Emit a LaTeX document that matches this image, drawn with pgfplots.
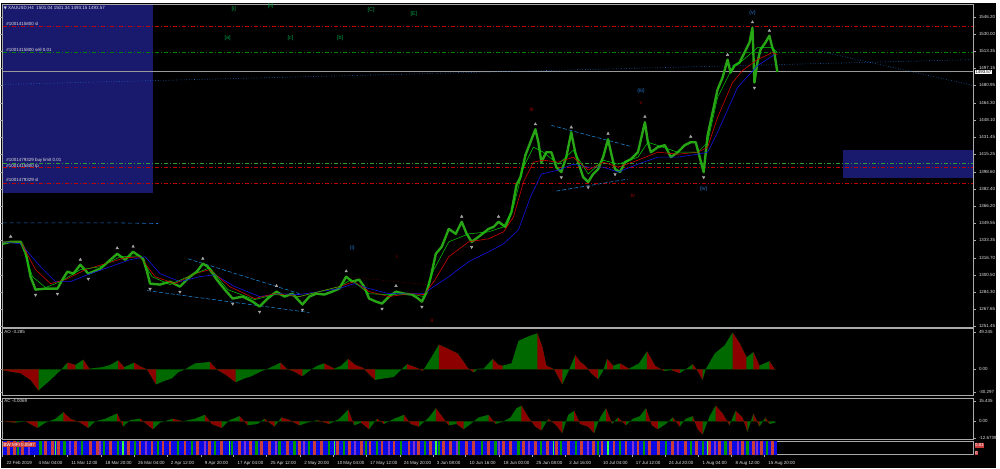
\documentclass[border=0pt]{standalone}
\usepackage{pgfplots}
\pgfplotsset{compat=1.18}
\usepackage{fontspec}
\setmainfont{Liberation Sans}
\newfontfamily\symfont{DejaVu Sans}
\definecolor{navy}{RGB}{25,25,110}
\definecolor{pricegreen}{RGB}{40,165,20}
\definecolor{aogreen}{RGB}{0,105,0}
\definecolor{aored}{RGB}{140,0,0}
\definecolor{mablue}{RGB}{20,20,230}
\definecolor{mared}{RGB}{210,0,0}
\definecolor{magreen}{RGB}{0,210,0}
\definecolor{ordred}{RGB}{190,0,0}
\definecolor{ordgreen}{RGB}{0,130,0}
\definecolor{trendblue}{RGB}{30,110,200}
\definecolor{chanblue}{RGB}{30,144,230}
\definecolor{wavegreen}{RGB}{0,160,70}
\definecolor{waveblue}{RGB}{40,120,210}
\definecolor{wavered}{RGB}{170,0,0}
\definecolor{frame}{RGB}{170,170,170}
\definecolor{txt}{RGB}{225,225,225}
\definecolor{mfired}{RGB}{200,60,60}
\definecolor{mfiblue}{RGB}{10,10,230}
\definecolor{mfigreen}{RGB}{0,150,0}
\definecolor{mfilime}{RGB}{60,255,60}
\definecolor{mfipurple}{RGB}{130,50,200}
\newcommand{\tf}{\fontsize{4.5}{5}\selectfont}
\pgfplotsset{
  mtpanel/.style={
    scale only axis, width=975pt, xmin=2, xmax=977, clip=false,
    axis line style={draw=frame, line width=0.9pt},
    tick style={draw=frame, line width=0.4pt},
    tick align=outside, major tick length=2.5pt,
    yticklabel pos=right, xtick=\empty,
    ticklabel style={font=\tf, text=txt},
    yticklabel style={xshift=-0.5pt},
  }
}
\begin{document}
\begin{tikzpicture}
\fill[black] (0,0) rectangle (1000pt,467pt);
% ---------------- main price panel ----------------
\begin{axis}[mtpanel, at={(2pt,141pt)}, anchor=south west, height=324pt,
  ymin=1250.50, ymax=1557.57,
  ytick={1251.45,1267.65,1284.30,1300.50,1316.70,1333.35,1349.55,1366.20,1382.40,1398.60,1415.25,1431.45,1448.10,1464.30,1480.95,1497.15,1513.35,1530.00,1546.20},
  yticklabel style={/pgf/number format/.cd, fixed, fixed zerofill, precision=2, 1000 sep={}, assume math mode=true},
]
% rectangles
\addplot[fill=navy, draw=none] coordinates {(2,1378.45)(153,1378.45)(153,1557.57)(2,1557.57)} -- cycle;
\addplot[fill=navy, draw=none] coordinates {(846,1392.7)(977,1392.7)(977,1419.2)(846,1419.2)} -- cycle;
% order lines
\addplot[ordred, line width=0.6pt, dash pattern=on 4pt off 2pt on 1pt off 2pt] coordinates {(2,1536.7)(977,1536.7)};
\addplot[ordgreen, line width=0.6pt, dash pattern=on 4pt off 2pt on 1pt off 2pt] coordinates {(2,1512.1)(977,1512.1)};
\addplot[ordgreen!80!white, line width=0.5pt, dash pattern=on 4pt off 2pt on 1pt off 2pt] coordinates {(2,1406.9)(977,1406.9)};
\addplot[ordred, line width=0.5pt, dash pattern=on 4pt off 2pt on 1pt off 2pt] coordinates {(2,1403.1)(977,1403.1)};
\addplot[ordred, line width=0.5pt, dash pattern=on 4pt off 2pt on 1pt off 2pt] coordinates {(2,1387.9)(977,1387.9)};
\addplot[gray!80, line width=0.5pt] coordinates {(2,1494.1)(977,1494.1)};
% trend lines
\addplot[trendblue, line width=0.6pt, dotted] coordinates {(2,1481.8)(977,1505.45)};
\addplot[trendblue, line width=0.6pt, dotted] coordinates {(820,1514.0)(977,1480.8)};
\addplot[trendblue, line width=0.6pt, dash pattern=on 4pt off 3pt] coordinates {(2,1350.0)(120,1350.0)(158,1349.4)};
\addplot[chanblue, line width=0.5pt, dash pattern=on 4pt off 2pt] coordinates {(188,1315.9)(300,1282.7)};
\addplot[chanblue, line width=0.5pt, dash pattern=on 4pt off 2pt] coordinates {(147,1285.6)(310,1264.7)};
\addplot[chanblue, line width=0.5pt, dash pattern=on 4pt off 2pt] coordinates {(553,1442.9)(632,1423.0)};
\addplot[chanblue, line width=0.5pt, dash pattern=on 4pt off 2pt] coordinates {(558,1380.3)(630,1391.7)};
\addplot[wavered, line width=0.5pt, dotted] coordinates {(347,1298.8)(427,1291.3)};
% price
\addplot[pricegreen, line width=2.4pt, line join=round] coordinates {(2,1330.1)(10,1332.0)(20,1332.0)(25,1322.5)(30,1298.8)(35,1286.5)(45,1287.5)(57,1287.5)(62,1296.0)(67,1303.6)(73,1301.7)(80,1310.2)(88,1301.7)(100,1306.4)(108,1313.1)(117,1320.6)(125,1314.9)(133,1322.5)(143,1315.9)(147,1303.6)(150,1292.2)(160,1291.3)(170,1294.1)(180,1289.4)(190,1298.8)(197,1303.6)(203,1311.2)(208,1308.3)(213,1301.7)(217,1296.0)(225,1286.5)(233,1278.0)(243,1279.9)(253,1275.1)(260,1270.4)(268,1278.0)(277,1284.6)(285,1279.9)(293,1282.7)(303,1272.3)(310,1279.9)(317,1282.7)(325,1281.8)(333,1284.6)(340,1287.5)(347,1298.8)(353,1294.1)(360,1296.0)(365,1289.4)(370,1278.0)(377,1275.1)(383,1273.2)(390,1279.9)(397,1284.6)(405,1282.7)(413,1281.8)(418,1278.9)(423,1275.1)(428,1284.6)(432,1298.8)(437,1320.6)(443,1327.3)(450,1344.3)(457,1339.6)(463,1351.0)(468,1339.6)(473,1332.0)(480,1336.8)(490,1344.3)(495,1346.2)(500,1351.0)(507,1346.2)(513,1360.4)(518,1386.0)(522,1393.6)(527,1414.5)(532,1426.8)(537,1439.1)(540,1426.8)(543,1407.8)(548,1417.3)(553,1417.3)(558,1403.1)(563,1398.4)(568,1412.6)(573,1436.3)(577,1417.3)(580,1407.8)(585,1393.6)(590,1388.9)(595,1396.5)(600,1401.2)(605,1412.6)(610,1429.6)(614,1412.6)(617,1401.2)(622,1398.4)(627,1407.8)(633,1410.7)(640,1417.3)(647,1445.8)(650,1426.8)(653,1417.3)(660,1422.1)(667,1424.0)(673,1412.6)(680,1417.3)(687,1424.0)(693,1426.8)(698,1426.8)(702,1412.6)(706,1398.4)(710,1433.4)(715,1455.2)(720,1477.0)(725,1488.4)(730,1505.4)(733,1493.1)(737,1499.8)(742,1502.6)(747,1512.1)(752,1521.6)(755,1535.8)(757,1483.6)(760,1502.6)(763,1514.9)(768,1521.6)(772,1528.2)(775,1516.8)(777,1512.1)(780,1493.6)};
% moving averages
\addplot[mablue, line width=0.6pt] coordinates {(2,1332.0)(20,1330.1)(40,1308.3)(55,1294.1)(70,1294.1)(90,1301.7)(110,1308.3)(130,1315.0)(145,1317.8)(160,1301.7)(180,1294.1)(200,1298.8)(215,1300.7)(235,1289.4)(260,1279.9)(280,1282.6)(300,1281.8)(320,1284.6)(340,1287.5)(355,1292.2)(370,1287.5)(390,1282.6)(410,1282.6)(425,1282.6)(435,1289.4)(450,1298.8)(470,1313.1)(490,1322.5)(505,1330.1)(520,1343.4)(532,1374.7)(543,1396.5)(560,1400.3)(575,1405.9)(590,1403.1)(605,1403.1)(620,1398.4)(640,1405.9)(660,1412.6)(680,1412.6)(700,1415.4)(710,1417.3)(720,1436.3)(740,1478.9)(760,1499.6)(777,1510.2)};
\addplot[mared, line width=0.6pt] coordinates {(2,1332.0)(20,1332.0)(35,1305.5)(50,1292.2)(65,1296.0)(85,1305.5)(105,1311.2)(125,1316.8)(140,1317.8)(155,1298.8)(175,1292.2)(195,1301.7)(210,1305.5)(230,1289.4)(255,1278.0)(275,1282.6)(300,1279.9)(320,1284.6)(340,1289.4)(355,1294.1)(370,1284.6)(390,1279.9)(410,1282.6)(425,1281.8)(435,1294.1)(450,1317.8)(470,1332.0)(490,1334.9)(505,1341.5)(515,1355.7)(525,1388.9)(535,1407.8)(545,1409.7)(560,1407.8)(575,1412.6)(590,1400.3)(605,1407.8)(620,1403.1)(640,1409.7)(660,1417.3)(680,1415.4)(700,1417.3)(710,1422.1)(720,1450.5)(735,1483.7)(745,1495.0)(760,1505.5)(775,1512.1)(780,1510.2)};
\addplot[magreen, line width=0.5pt] coordinates {(2,1332.0)(20,1332.0)(32,1298.8)(45,1288.4)(60,1294.1)(80,1305.5)(100,1308.3)(120,1317.8)(140,1318.7)(152,1298.8)(170,1291.3)(195,1301.7)(210,1307.4)(228,1286.5)(255,1277.0)(275,1281.8)(300,1279.9)(320,1284.6)(340,1289.4)(352,1296.0)(370,1282.6)(390,1281.8)(410,1282.6)(425,1279.9)(435,1305.5)(450,1332.0)(470,1339.6)(490,1341.5)(505,1346.2)(515,1365.2)(525,1403.1)(535,1422.1)(545,1417.3)(560,1405.9)(575,1419.2)(590,1396.5)(605,1409.7)(620,1405.9)(640,1412.6)(650,1426.8)(665,1422.1)(680,1417.3)(700,1417.3)(710,1426.8)(720,1469.4)(735,1497.9)(745,1504.5)(760,1516.8)(775,1516.8)(780,1512.1)};
% fractals
\addplot[only marks, mark=triangle*, mark size=1.5pt, color=gray!70] coordinates {(10,1337)(80,1315)(117,1326)(133,1327.5)(203,1316)(277,1290)(347,1304)(397,1290)(463,1356)(500,1356)(537,1444)(573,1441)(610,1435)(647,1451)(693,1432)(730,1510)(755,1541)(772,1533)};
\addplot[only marks, mark=triangle*, mark size=1.5pt, color=gray!70, mark options={rotate=180}] coordinates {(35,1281.5)(57,1282.5)(88,1296.7)(150,1287.2)(180,1284.4)(233,1273)(260,1265.4)(303,1267.3)(383,1268.2)(423,1270.1)(473,1327)(563,1393.4)(590,1383.9)(617,1396.2)(706,1393.4)(757,1478.6)};
% texts
\node[anchor=north west, text=txt, font=\tf, inner sep=1pt] at (rel axis cs:0,1) {{\symfont\fontsize{4}{5}\selectfont ▼}\ XAUUSD,H4\ \ 1501.04 1501.34 1493.15 1493.57};
\node[anchor=south west, text=txt, font=\tf, inner sep=0.5pt] at (axis cs:5,1537.5) {\#1001415800 sl};
\node[anchor=south west, text=txt, font=\tf, inner sep=0.5pt] at (axis cs:5,1512.9) {\#1001415800 sell 0.01};
\node[anchor=south west, text=txt, font=\tf, inner sep=0.5pt] at (axis cs:5,1407.3) {\#1001479329 buy limit 0.01};
\node[anchor=north west, text=txt, font=\tf, inner sep=0.5pt] at (axis cs:5,1406.8) {\#1001415800 tp};
\node[anchor=south west, text=txt, font=\tf, inner sep=0.5pt] at (axis cs:5,1388.7) {\#1001479329 sl};
\node[fill=white, text=black, font=\tf, inner sep=0.6pt, anchor=west] at (axis cs:978,1493.57) {1493.57};
% wave labels
\begin{scope}[font=\fontsize{5.5}{6}\selectfont]
\node[text=wavegreen] at (axis cs:234,1553.8) {[i]};
\node[text=wavegreen] at (axis cs:271,1556.6) {[ii]};
\node[text=wavegreen] at (axis cs:372,1552.8) {[C]};
\node[text=wavegreen] at (axis cs:415,1549.1) {[E]};
\node[text=wavegreen] at (axis cs:228,1526.3) {[a]};
\node[text=wavegreen] at (axis cs:291,1526.3) {[c]};
\node[text=wavegreen] at (axis cs:341,1526.3) {[b]};
\node[text=waveblue] at (axis cs:755,1550.0) {(v)};
\node[text=waveblue] at (axis cs:643,1475.1) {(iii)};
\node[text=waveblue] at (axis cs:706,1382.2) {(iv)};
\node[text=waveblue] at (axis cs:353,1326.3) {(i)};
\node[text=wavered] at (axis cs:533,1458.1) {iii};
\node[text=wavered] at (axis cs:643,1463.8) {v};
\node[text=wavered] at (axis cs:635,1376.5) {iv};
\node[text=wavered] at (axis cs:398,1317.8) {i};
\node[text=wavered] at (axis cs:433,1257.1) {ii};
\end{scope}
\end{axis}
% ---------------- AO panel ----------------
\begin{axis}[mtpanel, at={(2pt,73pt)}, anchor=south west, height=67pt,
  ymin=-34.27, ymax=54.55, ytick={-30.297,0,49.245}, yticklabels={-30.297,0.00,49.245},
  unbounded coords=jump]
\addplot[fill=aogreen, draw=none] coordinates {(2,0)(2,-1)(10,-3)(20,-5)(30,-14)(38,-28)(50,-14)(61,0)(67,9)(75,6)(83,13)(89,1)(95,2)(102,3)(110,6)(118,12)(124,3)(134,9)(140,4)(147,0)(156,-20)(165,-15)(172,-12)(178,-4)(185,0)(195,8)(203,9)(210,10)(217,0)(227,-8)(236,-17)(245,-12)(252,-9)(261,-3)(270,2)(281,9)(287,1)(295,-3)(303,-9)(312,0)(318,5)(325,8)(335,1)(342,5)(349,14)(356,6)(364,2)(370,-6)(376,-14)(385,-12)(395,-10)(401,-2)(408,7)(418,2)(424,-2)(432,15)(440,33)(450,27)(459,21)(465,10)(469,2)(475,-4)(480,1)(485,1)(494,14)(500,6)(504,5)(513,8)(520,38)(530,44)(539,48)(544,30)(548,5)(556,0)(564,-20)(571,0)(577,19)(582,10)(587,5)(593,-5)(600,-13)(605,-2)(609,14)(615,5)(622,8)(631,1)(641,8)(649,24)(653,15)(657,5)(666,-2)(674,-1)(682,-5)(690,2)(695,7)(700,-2)(705,-14)(708,0)(717,21)(727,32)(735,49)(742,35)(749,16)(756,23)(762,5)(767,8)(772,11)(778,-1)(778,0)} -- cycle;
\addplot[fill=aored, draw=none] coordinates {
(2,0)(2,-1)(10,-3)(20,-5)(30,-14)(38,-28)(38,0)(38,nan)
(67,0)(67,9)(75,6)(75,0)(75,nan)
(83,0)(83,13)(89,1)(89,0)(89,nan)
(118,0)(118,12)(124,3)(124,0)(124,nan)
(134,0)(134,9)(140,4)(147,0)(156,-20)(156,0)(156,nan)
(210,0)(210,10)(217,0)(227,-8)(236,-17)(236,0)(236,nan)
(281,0)(281,9)(287,1)(295,-3)(303,-9)(303,0)(303,nan)
(325,0)(325,8)(335,1)(335,0)(335,nan)
(349,0)(349,14)(356,6)(364,2)(370,-6)(376,-14)(376,0)(376,nan)
(408,0)(408,7)(418,2)(424,-2)(424,0)(424,nan)
(440,0)(440,33)(450,27)(459,21)(465,10)(469,2)(475,-4)(475,0)(475,nan)
(494,0)(494,14)(500,6)(504,5)(504,0)(504,nan)
(539,0)(539,48)(544,30)(548,5)(556,0)(564,-20)(564,0)(564,nan)
(577,0)(577,19)(582,10)(587,5)(593,-5)(600,-13)(600,0)(600,nan)
(609,0)(609,14)(615,5)(615,0)(615,nan)
(622,0)(622,8)(631,1)(631,0)(631,nan)
(649,0)(649,24)(653,15)(657,5)(666,-2)(666,0)(666,nan)
(674,0)(674,-1)(682,-5)(682,0)(682,nan)
(695,0)(695,7)(700,-2)(705,-14)(705,0)(705,nan)
(735,0)(735,49)(742,35)(749,16)(749,0)(749,nan)
(756,0)(756,23)(762,5)(762,0)(762,nan)
(772,0)(772,11)(778,-1)(778,0)};
\node[anchor=north west, text=txt, font=\tf, inner sep=1.5pt] at (rel axis cs:0,1) {AO -3.285};
\end{axis}
% ---------------- AC panel ----------------
\begin{axis}[mtpanel, at={(2pt,29pt)}, anchor=south west, height=41pt,
  ymin=-13.43, ymax=17.71, ytick={-12.6739,0,15.435}, yticklabels={-12.6739,0.00,15.435},
  unbounded coords=jump]
\addplot[fill=aogreen, draw=none] coordinates {(2,0)(15,-1)(25,0)(37,-5)(45,-1)(55,2)(63,7)(70,2)(80,-1)(88,-5)(95,0)(105,2)(117,6)(123,-4)(130,1)(140,2)(153,-6)(160,-1)(173,2)(183,0)(195,2)(205,5)(212,-2)(222,-5)(230,1)(240,4)(248,-3)(258,-2)(265,2)(275,-4)(282,3)(290,1)(300,-3)(308,-1)(318,1)(330,-2)(340,2)(349,9)(355,-3)(362,-1)(370,-6)(378,2)(385,-2)(395,2)(405,5)(412,-2)(420,-4)(430,3)(437,10)(442,5)(450,-3)(458,-2)(465,-6)(472,-2)(480,3)(490,5)(497,-2)(505,0)(512,3)(518,10)(523,12)(530,3)(537,-4)(543,-7)(550,2)(558,-3)(564,-9)(570,5)(576,8)(582,-2)(590,-4)(596,-9)(602,3)(608,10)(614,-2)(620,3)(628,-3)(635,2)(642,4)(648,10)(654,-3)(660,-6)(668,-2)(675,3)(682,-4)(688,2)(695,4)(700,-6)(705,-10)(712,4)(718,12)(725,6)(732,-3)(738,8)(745,3)(750,-8)(756,6)(762,-4)(768,3)(772,-2)(778,-1)(778,0)} -- cycle;
\addplot[fill=aored, draw=none] coordinates {
(2,0)(15,-1)(15,0)(15,nan)
(25,0)(37,-5)(37,0)(37,nan)
(63,0)(63,7)(70,2)(80,-1)(88,-5)(88,0)(88,nan)
(117,0)(117,6)(123,-4)(123,0)(123,nan)
(140,0)(140,2)(153,-6)(153,0)(153,nan)
(173,0)(173,2)(183,0)(183,nan)
(205,0)(205,5)(212,-2)(222,-5)(222,0)(222,nan)
(240,0)(240,4)(248,-3)(248,0)(248,nan)
(265,0)(265,2)(275,-4)(275,0)(275,nan)
(282,0)(282,3)(290,1)(300,-3)(300,0)(300,nan)
(318,0)(318,1)(330,-2)(330,0)(330,nan)
(349,0)(349,9)(355,-3)(355,0)(355,nan)
(362,0)(362,-1)(370,-6)(370,0)(370,nan)
(378,0)(378,2)(385,-2)(385,0)(385,nan)
(405,0)(405,5)(412,-2)(420,-4)(420,0)(420,nan)
(437,0)(437,10)(442,5)(450,-3)(450,0)(450,nan)
(458,0)(458,-2)(465,-6)(465,0)(465,nan)
(490,0)(490,5)(497,-2)(497,0)(497,nan)
(523,0)(523,12)(530,3)(537,-4)(543,-7)(543,0)(543,nan)
(550,0)(550,2)(558,-3)(564,-9)(564,0)(564,nan)
(576,0)(576,8)(582,-2)(590,-4)(596,-9)(596,0)(596,nan)
(608,0)(608,10)(614,-2)(614,0)(614,nan)
(620,0)(620,3)(628,-3)(628,0)(628,nan)
(648,0)(648,10)(654,-3)(660,-6)(660,0)(660,nan)
(675,0)(675,3)(682,-4)(682,0)(682,nan)
(695,0)(695,4)(700,-6)(705,-10)(705,0)(705,nan)
(718,0)(718,12)(725,6)(732,-3)(732,0)(732,nan)
(738,0)(738,8)(745,3)(750,-8)(750,0)(750,nan)
(756,0)(756,6)(762,-4)(762,0)(762,nan)
(768,0)(768,3)(772,-2)(772,0)};
\node[anchor=north west, text=txt, font=\tf, inner sep=1.5pt] at (rel axis cs:0,1) {AC -4.0069};
\end{axis}
% ---------------- BW MFI strip ----------------
\begin{axis}[mtpanel, at={(2pt,13pt)}, anchor=south west, height=14pt,
  ymin=0, ymax=1, ytick=\empty,
  xtick={2,34,67,101,134,167,201,234,267,301,334,367,401,434,467,501,534,567,601,634,667,701,734,767},
  xticklabels={22 Feb 2019,4 Mar 04:00,11 Mar 12:00,18 Mar 20:00,26 Mar 04:00,2 Apr 12:00,9 Apr 20:00,17 Apr 04:00,25 Apr 12:00,2 May 20:00,10 May 04:00,17 May 12:00,24 May 20:00,3 Jun 08:00,10 Jun 16:00,18 Jun 00:00,25 Jun 08:00,2 Jul 16:00,10 Jul 04:00,17 Jul 12:00,24 Jul 20:00,1 Aug 04:00,8 Aug 12:00,15 Aug 20:00},
  xticklabel style={anchor=north west, xshift=0.5pt, yshift=-0.5pt},
  xtick pos=bottom]
\addplot[fill=mfiblue, draw=none] coordinates {(2,0)(780,0)(780,1)(2,1)} -- cycle;
\addplot[ycomb, line width=2.8pt, color=mfired] coordinates {(8,1)(14,1)(22,1)(45,1)(52,1)(58,1)(75,1)(90,1)(97,1)(110,1)(128,1)(140,1)(152,1)(163,1)(170,1)(185,1)(198,1)(210,1)(222,1)(240,1)(251,1)(262,1)(270,1)(288,1)(300,1)(315,1)(322,1)(338,1)(350,1)(362,1)(371,1)(383,1)(395,1)(410,1)(420,1)(432,1)(445,1)(452,1)(468,1)(475,1)(490,1)(505,1)(512,1)(525,1)(537,1)(549,1)(558,1)(570,1)(583,1)(595,1)(604,1)(616,1)(628,1)(640,1)(652,1)(661,1)(675,1)(688,1)(699,1)(712,1)(722,1)(733,1)(745,1)(756,1)(764,1)(775,1)};
\addplot[ycomb, line width=2.2pt, color=mfigreen] coordinates {(17,1)(40,1)(64,1)(82,1)(104,1)(118,1)(135,1)(158,1)(178,1)(192,1)(215,1)(232,1)(257,1)(280,1)(295,1)(310,1)(330,1)(345,1)(367,1)(378,1)(402,1)(426,1)(440,1)(460,1)(483,1)(497,1)(520,1)(543,1)(563,1)(578,1)(600,1)(622,1)(646,1)(668,1)(693,1)(705,1)(728,1)(750,1)(770,1)};
\addplot[ycomb, line width=2pt, color=mfipurple] coordinates {(28,1)(70,1)(100,1)(146,1)(205,1)(245,1)(276,1)(305,1)(356,1)(390,1)(415,1)(458,1)(500,1)(531,1)(590,1)(635,1)(680,1)(717,1)(740,1)(760,1)};
\addplot[ycomb, line width=1.4pt, color=mfilime] coordinates {(55,1)(123,1)(230,1)(335,1)(437,1)(555,1)(610,1)(710,1)};
\node[anchor=north west, fill=mfired, text=white, font=\tf, inner sep=0.8pt] at (rel axis cs:0,0.93) {BW MFI 0.0597};
\node[anchor=west, fill=mfired, text=white, font=\tf, inner sep=0.5pt] at (axis cs:978,0.68) {0.01};
\node[anchor=west, fill=mfired, text=white, font=\tf, inner sep=0.5pt] at (axis cs:978,0.15) {0};
\end{axis}
\end{tikzpicture}
\end{document}
